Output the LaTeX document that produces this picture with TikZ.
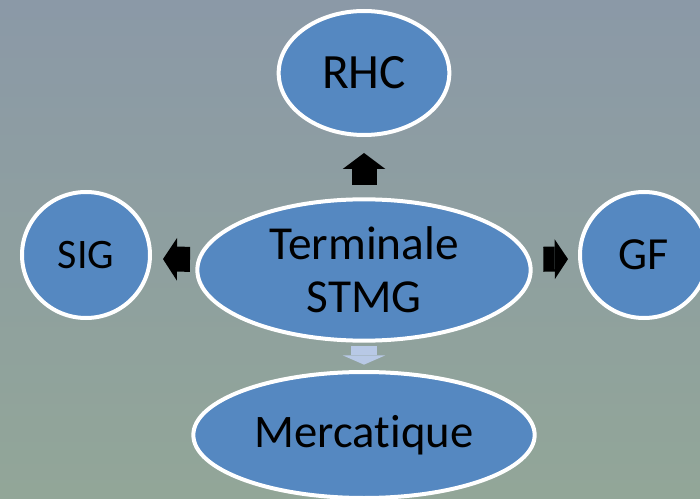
\documentclass[tikz,border=0pt]{standalone}
\usepackage{fontspec}
\setmainfont{Carlito}[Ligatures=NoCommon]
\usetikzlibrary{arrows.meta,shapes.geometric}
\definecolor{bgtop}{RGB}{139,153,167}
\definecolor{bgbottom}{RGB}{146,166,152}
\definecolor{bubblefill}{RGB}{85,136,193}
\definecolor{lightarrow}{RGB}{184,201,230}

\begin{document}
\begin{tikzpicture}[x=0.75pt,y=0.75pt,yscale=-1,xscale=1,
  bubble/.style={ellipse,draw=white,line width=3pt,fill=bubblefill,inner sep=0pt,align=center},
  blockarrow/.style={line width=18.75pt,-{Triangle[width=32pt,length=12pt,line width=0pt]}}]
\useasboundingbox (0,0) rectangle (700,499);

%Background
\shade[top color=bgtop,bottom color=bgbottom] (0,0) rectangle (700,499);

%Shape: Ellipse [id:rhc]
\node[bubble,minimum width=128pt,minimum height=93pt,font=\fontsize{37}{40}\selectfont] (rhc) at (364,73) {RHC};
%Shape: Ellipse [id:sig]
\node[bubble,minimum width=96pt,minimum height=94.5pt,font=\fontsize{31.5}{36}\selectfont] (sig) at (86,255) {SIG};
%Shape: Ellipse [id:gf]
\node[bubble,minimum width=96pt,minimum height=94.5pt,font=\fontsize{34.5}{38}\selectfont] (gf) at (644,255) {GF};
%Shape: Ellipse [id:stmg]
\node[bubble,minimum width=250pt,minimum height=106pt,font=\fontsize{35.5}{40}\selectfont] (stmg) at (364,270) {Terminale\\STMG};
%Shape: Ellipse [id:merc]
\node[bubble,minimum width=256pt,minimum height=94.5pt,font=\fontsize{35}{40}\selectfont] (merc) at (364,435) {Mercatique};

%Block Arrows
\draw[blockarrow,shorten <=9.4pt,shorten >=12pt] (stmg) -- (rhc);
\draw[blockarrow,-{Triangle[width=32pt,length=10.5pt,line width=0pt]},shorten <=4pt,shorten >=8.25pt] ([yshift=-8pt]stmg.west) -- ([yshift=3pt]sig.east);
\draw[blockarrow,-{Triangle[width=30pt,length=10pt,line width=0pt]},shorten <=8pt,shorten >=7.5pt] ([yshift=-8pt]stmg.east) -- ([yshift=3pt]gf.west);
\draw[blockarrow,draw=lightarrow,line width=19.5pt,-{Triangle[width=32pt,length=7pt,line width=0pt]},shorten <=2.6pt,shorten >=4pt] (stmg) -- (merc);

\end{tikzpicture}
\end{document}
